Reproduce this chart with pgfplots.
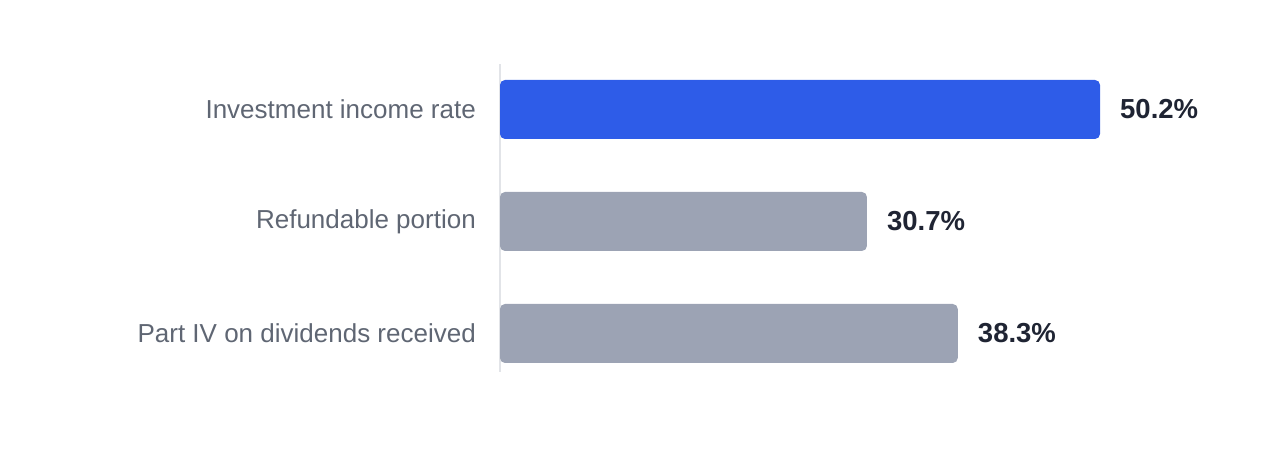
\documentclass[border=0pt]{standalone}
\usepackage{pgfplots}
\pgfplotsset{compat=1.18}
\usepackage{fontspec}
\setmainfont{Liberation Sans}
\definecolor{barblue}{HTML}{2E5CE8}
\definecolor{bargray}{HTML}{9CA3B4}
\definecolor{labgray}{HTML}{5F6673}
\definecolor{valdark}{HTML}{1F2433}
\definecolor{axgray}{HTML}{E2E4E8}
\begin{document}
\begin{tikzpicture}
\path[use as bounding box] (0pt,0pt) rectangle (1280pt,464pt);
\begin{axis}[
  at={(500pt,92pt)}, anchor=south west,
  scale only axis, width=600pt, height=308pt,
  xmin=0, xmax=50.2,
  ymin=-0.406, ymax=2.344,
  y dir=reverse,
  xbar, bar shift=0pt, bar width=59pt,
  axis x line=none,
  axis y line=left,
  y axis line style={draw=axgray, line width=1.5pt, -},
  ytick={0,1,2},
  yticklabels={Investment income rate, Refundable portion, Part IV on dividends received},
  major tick length=0pt,
  yticklabel style={font=\fontsize{26}{30}\selectfont, text=labgray, anchor=east, inner sep=0pt, xshift=-24pt},
  clip=false,
  nodes near coords={\pgfmathprintnumber[fixed,precision=1,fixed zerofill]{\pgfplotspointmeta}\%},
  nodes near coords style={font=\bfseries\fontsize{27.5}{32}\selectfont, text=valdark, anchor=west, inner sep=0pt, xshift=20pt},
  /pgf/number format/assume math mode=true,
]
\addplot[fill=barblue, draw=none, rounded corners=5pt] coordinates {(50.2,0)};
\addplot[fill=bargray, draw=none, rounded corners=5pt] coordinates {(30.7,1) (38.3,2)};
\end{axis}
\end{tikzpicture}
\end{document}
